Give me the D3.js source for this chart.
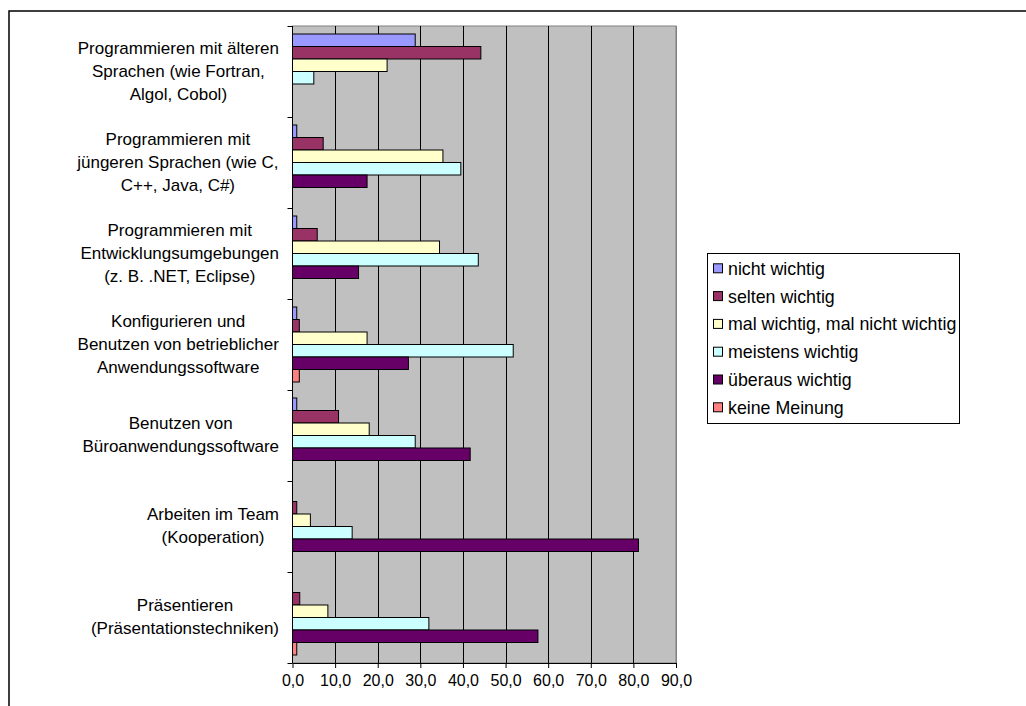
<!DOCTYPE html>
<html>
<head>
<meta charset="utf-8">
<script src="https://cdn.jsdelivr.net/npm/d3@7"></script>
<style>
  html, body { margin: 0; padding: 0; background: #fff; }
  svg { display: block; font-family: "Liberation Sans", Arial, sans-serif; }
</style>
</head>
<body>
<svg id="chart" width="1026" height="706"></svg>
<script>
// ---- data ----
const categories = [
  "Programmieren mit älteren\nSprachen (wie Fortran,\nAlgol, Cobol)",
  "Programmieren mit\njüngeren Sprachen (wie C,\nC++, Java, C#)",
  "Programmieren mit\nEntwicklungsumgebungen\n(z. B. .NET, Eclipse)",
  "Konfigurieren und\nBenutzen von betrieblicher\nAnwendungssoftware",
  "Benutzen von\nBüroanwendungssoftware",
  "Arbeiten im Team\n(Kooperation)",
  "Präsentieren\n(Präsentationstechniken)"
];
const seriesNames = [
  "nicht wichtig",
  "selten wichtig",
  "mal wichtig, mal nicht wichtig",
  "meistens wichtig",
  "überaus wichtig",
  "keine Meinung"
];
const nichtWichtig   = [28.8, 1.0, 1.0, 1.0, 1.0, 0.0, 0.0];
const seltenWichtig  = [44.2, 7.2, 5.8, 1.6, 10.8, 1.0, 1.7];
const malWichtig     = [22.2, 35.3, 34.5, 17.5, 18.0, 4.2, 8.3];
const meistensWichtig= [5.0, 39.5, 43.6, 51.8, 28.8, 14.0, 32.0];
const ueberausWichtig= [0.0, 17.5, 15.5, 27.2, 41.7, 81.2, 57.6];
const keineMeinung   = [0.0, 0.0, 0.0, 1.6, 0.0, 0.0, 1.0];
const xTicks = [0, 10, 20, 30, 40, 50, 60, 70, 80, 90];

const seriesValues = [nichtWichtig, seltenWichtig, malWichtig, meistensWichtig, ueberausWichtig, keineMeinung];
const colors = ["#9999FF", "#993366", "#FFFFCC", "#CCFFFF", "#660066", "#FF8080"];

// ---- layout ----
const svg = d3.select("#chart");
const plot = { left: 292.5, right: 676, top: 26, bottom: 663 };

// outer chart border (top and left visible)
svg.append("path")
  .attr("d", "M9,706 V11 H1026")
  .attr("fill", "none").attr("stroke", "#000").attr("stroke-width", 1.5);

const x = d3.scaleLinear().domain([0, 90]).range([plot.left, plot.right]);
const y0 = d3.scaleBand().domain(d3.range(categories.length)).range([plot.top, plot.bottom]);
const y1 = d3.scaleBand().domain(d3.range(seriesNames.length))
  .range([0, y0.bandwidth()]).paddingInner(0).paddingOuter(0.64);

// plot background
svg.append("rect")
  .attr("x", plot.left).attr("y", plot.top)
  .attr("width", plot.right - plot.left).attr("height", plot.bottom - plot.top)
  .attr("fill", "#C0C0C0").attr("stroke", "#808080").attr("stroke-width", 1);

// gridlines
svg.append("g").selectAll("line").data(xTicks.filter(d => d > 0)).join("line")
  .attr("x1", d => Math.round(x(d)) + 0.5).attr("x2", d => Math.round(x(d)) + 0.5)
  .attr("y1", plot.top).attr("y2", plot.bottom)
  .attr("stroke", d => d === 90 ? "#808080" : "#000").attr("stroke-width", 1);

// bars
const barData = [];
categories.forEach((c, ci) => {
  seriesValues.forEach((vals, si) => {
    if (vals[ci] > 0) barData.push({ ci, si, v: vals[ci] });
  });
});
svg.append("g").selectAll("rect").data(barData).join("rect")
  .attr("x", x(0))
  .attr("y", d => y0(d.ci) + y1(d.si))
  .attr("width", d => x(d.v) - x(0))
  .attr("height", y1.bandwidth())
  .attr("fill", d => colors[d.si])
  .attr("stroke", "#000").attr("stroke-width", 1);

// x axis
const xAxis = d3.axisBottom(x).tickValues(xTicks).tickSize(5).tickSizeOuter(0)
  .tickFormat(d => d3.format(".1f")(d).replace(".", ","));
const gx = svg.append("g").attr("transform", `translate(0,${plot.bottom})`).call(xAxis);
gx.select(".domain").attr("stroke", "#000");
gx.selectAll(".tick line").attr("stroke", "#000");
gx.selectAll(".tick text").attr("font-size", 16).attr("fill", "#000")
  .attr("font-family", "'Liberation Sans', Arial, sans-serif").attr("dy", "0.95em");

// y axis
const yTickPos = d3.range(categories.length + 1).map(i => plot.top + i * y0.step());
const gy = svg.append("g");
gy.append("line").attr("x1", plot.left).attr("x2", plot.left)
  .attr("y1", plot.top).attr("y2", plot.bottom).attr("stroke", "#000");
gy.selectAll("line.tk").data(yTickPos).join("line").attr("class", "tk")
  .attr("x1", plot.left - 5).attr("x2", plot.left)
  .attr("y1", d => Math.round(d) + 0.5).attr("y2", d => Math.round(d) + 0.5)
  .attr("stroke", "#000");

// category labels (lines centered, block right-aligned near axis)
const lineH = 23;
const labelRight = 279;
categories.forEach((c, ci) => {
  const lines = c.split("\n");
  const g = svg.append("g");
  const t = g.append("text").attr("font-size", 17).attr("fill", "#000")
    .attr("text-anchor", "middle");
  const cy = y0(ci) + y0.bandwidth() / 2 - 1;
  lines.forEach((ln, li) => {
    t.append("tspan").attr("x", 0)
      .attr("y", cy + (li - (lines.length - 1) / 2) * lineH + 6)
      .text(ln);
  });
  const w = t.node().getBBox().width;
  g.attr("transform", `translate(${labelRight - w / 2},0)`);
});

// legend
const legend = { x: 707, y: 253, w: 252, h: 170, row0: 268.3, rowStep: 27.8 };
svg.append("rect").attr("x", legend.x + 0.5).attr("y", legend.y + 0.5)
  .attr("width", legend.w).attr("height", legend.h)
  .attr("fill", "#fff").attr("stroke", "#000");
const lg = svg.append("g").selectAll("g").data(seriesNames).join("g")
  .attr("transform", (d, i) => `translate(${legend.x},${legend.row0 + i * legend.rowStep})`);
lg.append("rect").attr("x", 6.5).attr("y", -4.5).attr("width", 9).attr("height", 9)
  .attr("fill", (d, i) => colors[i]).attr("stroke", "#000");
lg.append("text").attr("x", 21).attr("y", 6.5).attr("font-size", 17.8).attr("fill", "#000")
  .text(d => d);
</script>
</body>
</html>
